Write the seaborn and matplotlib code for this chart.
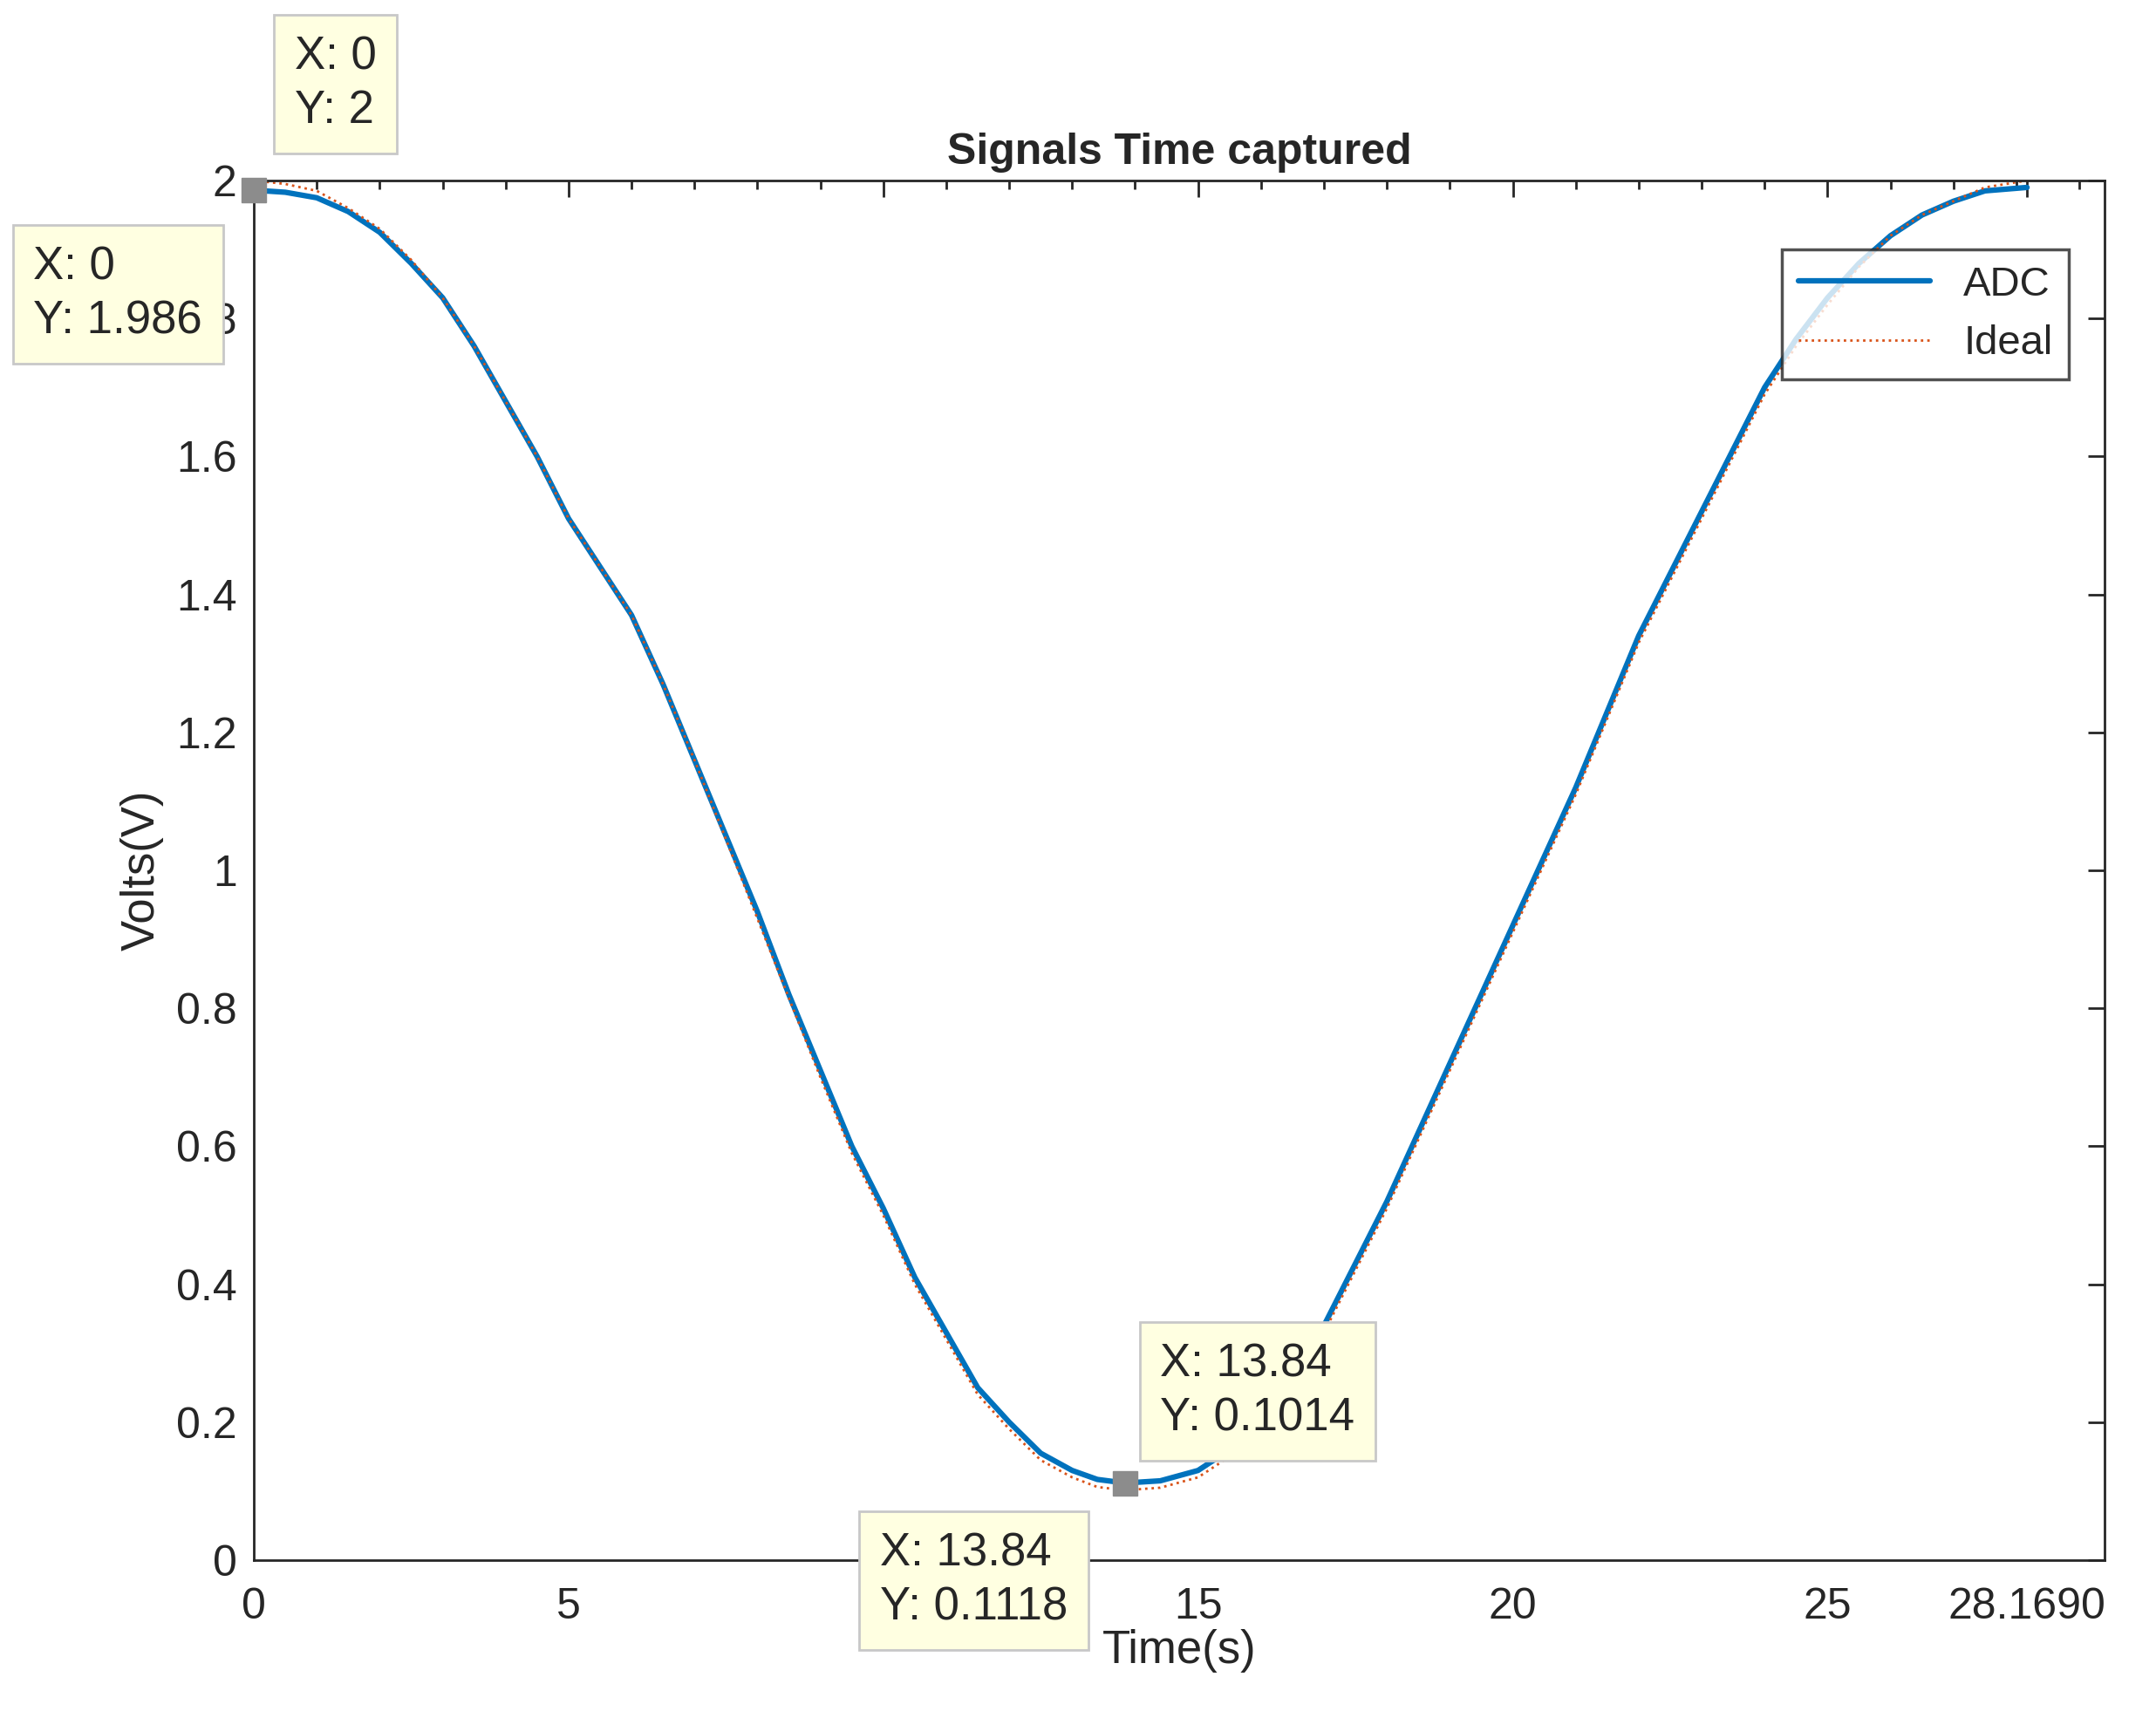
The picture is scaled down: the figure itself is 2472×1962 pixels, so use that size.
import numpy as np
import pandas as pd
import seaborn as sns
import matplotlib.pyplot as plt
from matplotlib.ticker import MultipleLocator

# values
time_s = [0, 0.5, 1, 1.5, 2, 2.5, 3, 3.5, 4, 4.5, 5, 5.5, 6, 6.5, 7, 7.5, 8, 8.5,
          9, 9.5, 10, 10.5, 11, 11.5, 12, 12.5, 13, 13.4, 13.84, 14.4, 15, 15.5,
          16, 16.5, 17, 17.5, 18, 18.5, 19, 19.5, 20, 20.5, 21, 21.5, 22, 22.5,
          23, 23.5, 24, 24.5, 25, 25.5, 26, 26.5, 27, 27.5, 28.169]
adc_v = [1.986, 1.983, 1.975, 1.955, 1.925, 1.88, 1.83, 1.76, 1.68, 1.60, 1.51,
         1.44, 1.37, 1.27, 1.16, 1.05, 0.94, 0.82, 0.71, 0.60, 0.51, 0.41, 0.33,
         0.25, 0.20, 0.155, 0.13, 0.117, 0.1118, 0.115, 0.13, 0.16, 0.20, 0.26,
         0.34, 0.43, 0.52, 0.62, 0.72, 0.82, 0.92, 1.02, 1.12, 1.23, 1.34, 1.43,
         1.52, 1.61, 1.70, 1.77, 1.83, 1.88, 1.92, 1.95, 1.97, 1.985, 1.99]
ideal_v = [2.0, 1.995, 1.985, 1.96, 1.93, 1.885, 1.83, 1.76, 1.68, 1.60, 1.51,
           1.44, 1.37, 1.27, 1.16, 1.045, 0.93, 0.815, 0.70, 0.59, 0.50, 0.40, 0.32,
           0.24, 0.19, 0.145, 0.12, 0.106, 0.1014, 0.105, 0.12, 0.15, 0.19, 0.25,
           0.33, 0.42, 0.51, 0.61, 0.71, 0.81, 0.91, 1.01, 1.11, 1.22, 1.33, 1.42,
           1.51, 1.60, 1.69, 1.76, 1.82, 1.875, 1.92, 1.95, 1.97, 1.99, 2.0]
xticks = [0, 5, 10, 15, 20, 25, 28.169]
xticklabels = ["0", "5", "10", "15", "20", "25", "28.1690"]

df = pd.DataFrame({"t": time_s, "adc": adc_v, "ideal": ideal_v})

sns.set_style("white")
plt.rcParams['font.family'] = ['Liberation Sans', 'DejaVu Sans']

fig = plt.figure(figsize=(24.72, 19.62), dpi=100)
ax = fig.add_axes([291 / 2472, 1 - 1789 / 1962, (2413 - 291) / 2472, (1789 - 207) / 1962])

sns.lineplot(data=df, x="t", y="adc", ax=ax, color="#0072BD", linewidth=4.5, label="ADC")
sns.lineplot(data=df, x="t", y="ideal", ax=ax, color="#D95319", linewidth=2,
             linestyle=":", label="Ideal")

ax.set_xlim(0, 29.4)
ax.set_ylim(0, 2)
ax.set_xticks(xticks)
ax.set_xticklabels(xticklabels)
ax.set_yticks(np.round(np.arange(0, 2.01, 0.2), 1))
ax.set_yticklabels(["0", "0.2", "0.4", "0.6", "0.8", "1", "1.2", "1.4", "1.6", "1.8", "2"])
ax.xaxis.set_minor_locator(MultipleLocator(1))
ax.tick_params(which="both", direction="in", top=True, right=True, labelsize=36,
               colors="#262626", width=2)
ax.tick_params(axis="x", pad=22)
ax.tick_params(axis="y", pad=14)
ax.tick_params(which="major", length=14)
ax.tick_params(which="minor", length=7)
for s in ax.spines.values():
    s.set_color("#262626")
    s.set_linewidth(2)

ax.set_title("Signals Time captured", fontsize=36, fontweight="bold", pad=14)
ax.set_xlabel("Time(s)", fontsize=38, color="#262626", labelpad=2)
ax.set_ylabel("Volts(V)", fontsize=38, color="#262626", labelpad=10)

leg = ax.legend(loc="upper right", bbox_to_anchor=(0.992, 0.965), fontsize=34,
                frameon=True, fancybox=False, edgecolor="#262626", handlelength=3.2)
leg.get_frame().set_linewidth(2.5)

# data tips
box = dict(boxstyle="square,pad=0.45", facecolor="#FFFFE1", edgecolor="#C8C8C8", linewidth=2)
ax.plot([0, 13.84], [1.986, 0.1118], marker="s", markersize=20, color="#8C8C8C",
        linestyle="none", clip_on=False, zorder=5)
ax.text(0.65, 2.14, "X: 0\nY: 2", fontsize=38, va="center", ha="left", bbox=box,
        clip_on=False, linespacing=1.3)
ax.text(-3.5, 1.835, "X: 0\nY: 1.986", fontsize=38, va="center", ha="left", bbox=box,
        clip_on=False, linespacing=1.3)
ax.text(14.4, 0.245, "X: 13.84\nY: 0.1014", fontsize=38, va="center", ha="left", bbox=box,
        clip_on=False, linespacing=1.3)
ax.text(9.95, -0.03, "X: 13.84\nY: 0.1118", fontsize=38, va="center", ha="left", bbox=box,
        clip_on=False, linespacing=1.3, zorder=6)

fig.savefig("out.png", dpi=100, facecolor="white")
